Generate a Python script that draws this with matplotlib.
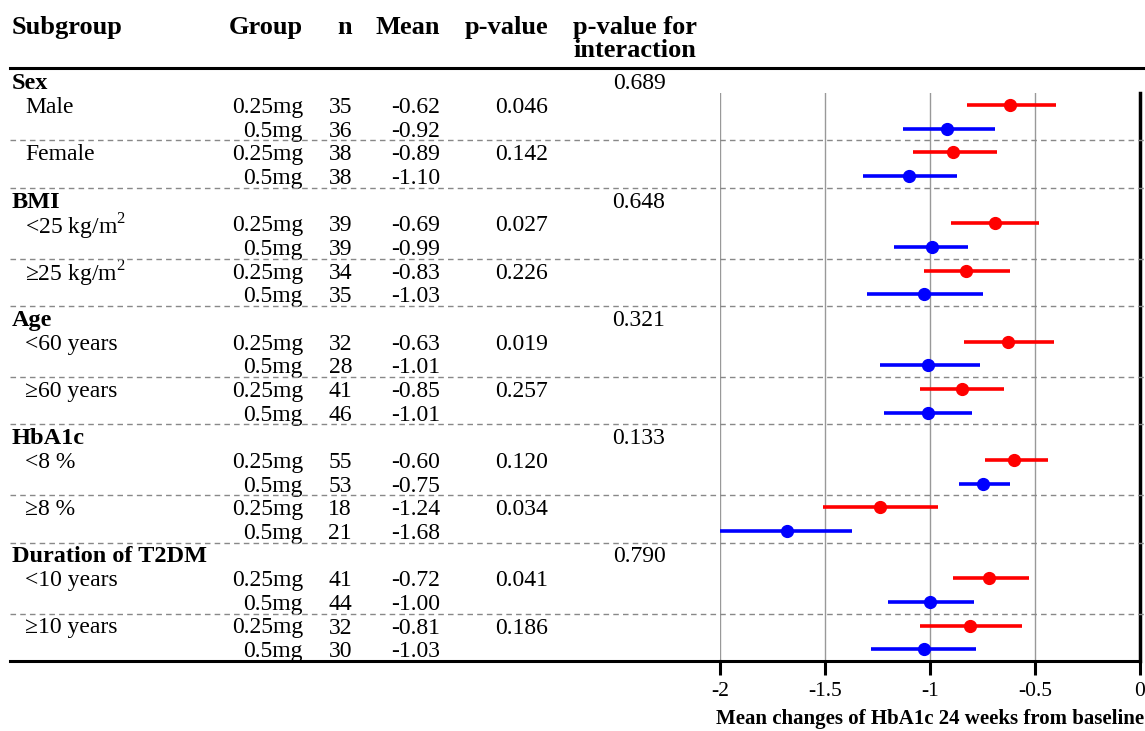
import matplotlib
matplotlib.use('Agg')
import matplotlib.pyplot as plt
import matplotlib.transforms as mtransforms
from matplotlib.lines import Line2D

# data
categories = ['Sex', 'BMI', 'Age', 'HbA1c', 'Duration of T2DM']
interaction_p = ['0.689', '0.648', '0.321', '0.133', '0.790']
subgroups = ['Male', 'Female', r'<25 kg/m$^2$', r'≥25 kg/m$^2$', '<60 years', '≥60 years',
             '<8 %', '≥8 %', '<10 years', '≥10 years']
subgroup_p = ['0.046', '0.142', '0.027', '0.226', '0.019', '0.257', '0.120', '0.034', '0.041', '0.186']
doses = ['0.25mg', '0.5mg']
n_low = [35, 38, 39, 34, 32, 41, 55, 18, 41, 32]
n_high = [36, 38, 39, 35, 28, 46, 53, 21, 44, 30]
mean_low = [-0.62, -0.89, -0.69, -0.83, -0.63, -0.85, -0.60, -1.24, -0.72, -0.81]
mean_high = [-0.92, -1.10, -0.99, -1.03, -1.01, -1.01, -0.75, -1.68, -1.00, -1.03]
lo_low = [-0.825, -1.08, -0.90, -1.03, -0.84, -1.05, -0.74, -1.51, -0.89, -1.05]
hi_low = [-0.40, -0.68, -0.48, -0.62, -0.41, -0.65, -0.44, -0.96, -0.53, -0.56]
lo_high = [-1.13, -1.32, -1.17, -1.30, -1.24, -1.22, -0.86, -2.00, -1.20, -1.28]
hi_high = [-0.69, -0.87, -0.82, -0.75, -0.76, -0.80, -0.62, -1.37, -0.79, -0.78]
xticks = [-2, -1.5, -1, -0.5, 0]
headers = ['Subgroup', 'Group', 'n', 'Mean', 'p-value']

plt.rcParams['font.family'] = ['Liberation Serif', 'DejaVu Serif']
plt.rcParams['mathtext.fontset'] = 'custom'
plt.rcParams['mathtext.rm'] = 'Liberation Serif'

W, H = 1145, 731
fig = plt.figure(figsize=(W / 100, H / 100), dpi=100)
ax = fig.add_axes([720 / W, 1 - 661 / H, 420 / W, (661 - 93) / H])

tr = mtransforms.blended_transform_factory(fig.transFigure, ax.transData)
def px(x):
    return x / W

fs = 17
hfs = 19
colors = ['#FF0000', '#0000FF']

# table text and forest marks
row = 0
for c, cat in enumerate(categories):
    ax.text(px(12), -row, cat, transform=tr, fontsize=fs + 0.5, fontweight='bold',
            va='center_baseline', ha='left', clip_on=False)
    ax.text(px(639), -row, interaction_p[c], transform=tr, fontsize=fs,
            va='center_baseline', ha='center', clip_on=False)
    row += 1
    for s in range(2 * c, 2 * c + 2):
        ax.text(px(25), -row, subgroups[s], transform=tr, fontsize=fs,
                va='center_baseline', ha='left', clip_on=False)
        ax.text(px(548), -row, subgroup_p[s], transform=tr, fontsize=fs,
                va='center_baseline', ha='right', clip_on=False)
        vals = [(n_low[s], mean_low[s], lo_low[s], hi_low[s]),
                (n_high[s], mean_high[s], lo_high[s], hi_high[s])]
        for d, (n, m, lo, hi) in enumerate(vals):
            y = -row
            ax.text(px(303), y, doses[d], transform=tr, fontsize=fs,
                    va='center_baseline', ha='right', clip_on=False)
            ax.text(px(352), y, str(n), transform=tr, fontsize=fs,
                    va='center_baseline', ha='right', clip_on=False)
            ax.text(px(440), y, f'{m:.2f}', transform=tr, fontsize=fs,
                    va='center_baseline', ha='right', clip_on=False)
            ax.plot([lo, hi], [y, y], color=colors[d], lw=2.6, solid_capstyle='butt', zorder=3)
            ax.plot(m, y, 'o', color=colors[d], ms=8.5, zorder=4)
            row += 1
        if row < 5 * len(categories):
            fig.add_artist(Line2D([px(10), 1], [-row + 0.5, -row + 0.5], transform=tr,
                                  color='#888888', lw=1, ls=(0, (4, 3))))

# headers
hx = [(12, 'left'), (303, 'right'), (352, 'right'), (440, 'right'), (548, 'right')]
for (x, ha), h in zip(hx, headers):
    ax.text(px(x), 2.38, h, transform=tr, fontsize=hfs, fontweight='bold',
            va='center_baseline', ha=ha, clip_on=False)
ax.text(px(573), 2.38, 'p-value for', transform=tr, fontsize=hfs, fontweight='bold',
        va='center_baseline', ha='left', clip_on=False)
ax.text(px(573), 1.42, 'interaction', transform=tr, fontsize=hfs, fontweight='bold',
        va='center_baseline', ha='left', clip_on=False)

# rules
fig.add_artist(Line2D([px(10), 1], [0.55, 0.55], transform=tr, color='black', lw=2.2))
fig.add_artist(Line2D([px(10), px(720)], [-24.5, -24.5], transform=tr, color='black', lw=2.2))

ax.set_xlim(-2, 0)
ax.set_ylim(-24.5, -0.5)
ax.set_yticks([])
ax.set_xticks(xticks)
ax.set_xticklabels([f'{t:g}' for t in xticks], fontsize=15.5)
ax.tick_params(axis='x', direction='out', length=10, width=2.2, pad=5)
for t in xticks[:-1]:
    ax.axvline(t, color='#999999', lw=1, zorder=1)
ax.spines['top'].set_visible(False)
ax.spines['left'].set_visible(False)
ax.spines['right'].set_linewidth(2.5)
ax.spines['bottom'].set_linewidth(2.2)
ax.set_xlabel('Mean changes of HbA1c 24 weeks from baseline', fontsize=15,
              fontweight='bold', labelpad=6)

fig.savefig('out.png', dpi=100)
